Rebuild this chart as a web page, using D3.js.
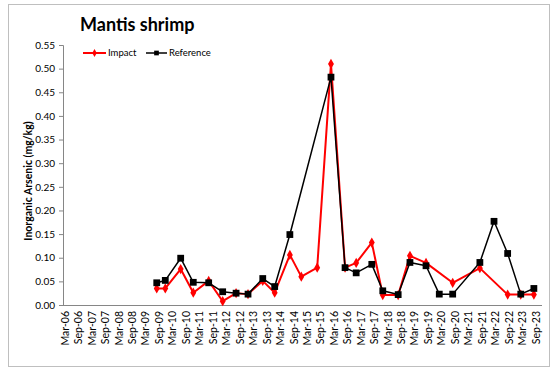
<!DOCTYPE html>
<html>
<head>
<meta charset="utf-8">
<script src="https://cdn.jsdelivr.net/npm/d3@7"></script>
<style>
  html, body { margin: 0; padding: 0; background: #fff; }
  svg { display: block; }
  text { font-family: Lato, "Open Sans", sans-serif; fill: #000; }
</style>
</head>
<body>
<svg id="chart" width="559" height="372"></svg>
<script>
// Sampling dates and inorganic arsenic concentrations (mg/kg)
const impactDates = [
  "2009-08-04", "2009-11-28", "2010-06-25", "2010-12-13", "2011-07-10",
  "2012-01-16", "2012-07-16", "2012-12-25", "2013-07-13", "2013-12-22",
  "2014-07-16", "2014-12-18", "2015-07-22", "2016-01-25", "2016-08-03",
  "2017-01-01", "2017-08-01", "2017-12-28", "2018-07-25", "2019-01-01",
  "2019-08-07", "2020-08-03", "2021-08-07", "2022-08-19", "2023-02-13",
  "2023-08-10"
];
const impactValues = [
  0.035, 0.035, 0.076, 0.026, 0.051,
  0.008, 0.025, 0.023, 0.051, 0.026,
  0.106, 0.060, 0.079, 0.510, 0.079,
  0.089, 0.132, 0.021, 0.021, 0.104,
  0.089, 0.047, 0.078, 0.022, 0.022,
  0.022
];
const referenceDates = [
  "2009-08-04", "2009-11-28", "2010-06-25", "2010-12-13", "2011-07-10",
  "2012-01-16", "2012-07-16", "2012-12-25", "2013-07-13", "2013-12-22",
  "2014-07-16", "2016-01-25", "2016-08-03", "2017-01-01", "2017-08-01",
  "2017-12-28", "2018-07-25", "2019-01-01", "2019-08-07", "2020-02-03",
  "2020-08-03", "2021-08-07", "2022-02-15", "2022-08-19", "2023-02-13",
  "2023-08-10"
];
const referenceValues = [
  0.047, 0.052, 0.099, 0.048, 0.047,
  0.028, 0.025, 0.023, 0.056, 0.039,
  0.149, 0.482, 0.079, 0.068, 0.086,
  0.030, 0.022, 0.090, 0.083, 0.023,
  0.023, 0.090, 0.177, 0.109, 0.023,
  0.035
];
const yTickValues = [0, 0.05, 0.10, 0.15, 0.20, 0.25, 0.30, 0.35, 0.40, 0.45, 0.50, 0.55];
const xTickLabels = [
  "Mar-06", "Sep-06", "Mar-07", "Sep-07", "Mar-08", "Sep-08",
  "Mar-09", "Sep-09", "Mar-10", "Sep-10", "Mar-11", "Sep-11",
  "Mar-12", "Sep-12", "Mar-13", "Sep-13", "Mar-14", "Sep-14",
  "Mar-15", "Sep-15", "Mar-16", "Sep-16", "Mar-17", "Sep-17",
  "Mar-18", "Sep-18", "Mar-19", "Sep-19", "Mar-20", "Sep-20",
  "Mar-21", "Sep-21", "Mar-22", "Sep-22", "Mar-23", "Sep-23"
];
const seriesNames = ["Impact", "Reference"];
const seriesColors = ["#ff0000", "#000000"];

const parseDay = d3.timeParse("%Y-%m-%d");
const parseTick = d3.timeParse("%b-%y");

const svg = d3.select("#chart");

// chart frame
svg.append("rect")
  .attr("x", 8.5).attr("y", 4.5)
  .attr("width", 541).attr("height", 362)
  .attr("fill", "none").attr("stroke", "#bfbfbf").attr("stroke-width", 1);

const tickDates = xTickLabels.map(parseTick);
const x = d3.scaleTime()
  .domain([tickDates[0], tickDates[tickDates.length - 1]])
  .range([64.5, 535.5]);
const y = d3.scaleLinear().domain([0, 0.55]).range([305, 45]);

const plotLeft = 63, plotRight = 542;

// y axis
const yAxis = d3.axisLeft(y)
  .tickValues(yTickValues)
  .tickFormat(d3.format(".2f"))
  .tickSizeOuter(0)
  .tickSize(4)
  .tickPadding(4);
const gy = svg.append("g").attr("transform", `translate(${plotLeft},0)`).call(yAxis);
gy.select(".domain").attr("stroke", "#868686");
gy.selectAll(".tick line").attr("stroke", "#868686");
gy.selectAll(".tick text")
  .attr("font-size", 10)
  .attr("font-family", "Lato, sans-serif")
  .attr("fill", "#000");

// x axis: baseline plus rotated half-year labels
const xAxis = d3.axisBottom(x)
  .tickValues(tickDates)
  .tickFormat((d, i) => xTickLabels[i])
  .tickSize(0)
  .tickSizeOuter(0);
const gx = svg.append("g").attr("transform", "translate(0,305)").call(xAxis);
gx.select(".domain").remove();
gx.selectAll(".tick text")
  .attr("font-size", 10.5)
  .attr("font-family", "Lato, sans-serif")
  .attr("fill", "#000")
  .attr("text-anchor", "end")
  .attr("transform", "rotate(-90)")
  .attr("x", -6)
  .attr("y", 0)
  .attr("dy", "0.35em");
svg.append("line")
  .attr("x1", plotLeft).attr("x2", plotRight)
  .attr("y1", 305.5).attr("y2", 305.5)
  .attr("stroke", "#868686").attr("stroke-width", 1);

// series
const series = [
  { name: seriesNames[0], color: seriesColors[0], dates: impactDates, values: impactValues, marker: "diamond", width: 2 },
  { name: seriesNames[1], color: seriesColors[1], dates: referenceDates, values: referenceValues, marker: "square", width: 1.5 }
];

const line = d3.line().x(d => x(d.date)).y(d => y(d.value));

series.forEach(s => {
  const pts = s.dates.map((d, i) => ({ date: parseDay(d), value: s.values[i] }));
  const g = svg.append("g");
  g.append("path")
    .datum(pts)
    .attr("fill", "none")
    .attr("stroke", s.color)
    .attr("stroke-width", s.width)
    .attr("stroke-linejoin", "round")
    .attr("d", line);
  const sym = d3.symbol()
    .type(s.marker === "square" ? d3.symbolSquare : d3.symbolDiamond)
    .size(s.marker === "square" ? 46 : 30);
  g.selectAll("path.marker")
    .data(pts)
    .enter().append("path")
    .attr("class", "marker")
    .attr("transform", d => `translate(${x(d.date)},${y(d.value)})`)
    .attr("d", sym)
    .attr("fill", s.color);
});

// title
svg.append("text")
  .attr("x", 80).attr("y", 31)
  .attr("font-size", 18)
  .attr("font-weight", "bold")
  .text("Mantis shrimp");

// y axis title
svg.append("text")
  .attr("transform", "translate(32,181) rotate(-90)")
  .attr("text-anchor", "middle")
  .attr("font-size", 10.5)
  .attr("font-weight", "bold")
  .text("Inorganic Arsenic (mg/kg)");

// legend
const legend = [
  { x0: 83, x1: 106, tx: 108 },
  { x0: 146, x1: 167, tx: 169 }
];
series.forEach((s, i) => {
  const L = legend[i];
  const g = svg.append("g");
  g.append("line")
    .attr("x1", L.x0).attr("x2", L.x1).attr("y1", 53).attr("y2", 53)
    .attr("stroke", s.color).attr("stroke-width", s.width);
  g.append("path")
    .attr("transform", `translate(${(L.x0 + L.x1) / 2},53)`)
    .attr("d", d3.symbol().type(s.marker === "square" ? d3.symbolSquare : d3.symbolDiamond).size(s.marker === "square" ? 22 : 18))
    .attr("fill", s.color);
  g.append("text")
    .attr("x", L.tx).attr("y", 53).attr("dy", "0.35em")
    .attr("font-size", 9.5)
    .text(s.name);
});
</script>
</body>
</html>
